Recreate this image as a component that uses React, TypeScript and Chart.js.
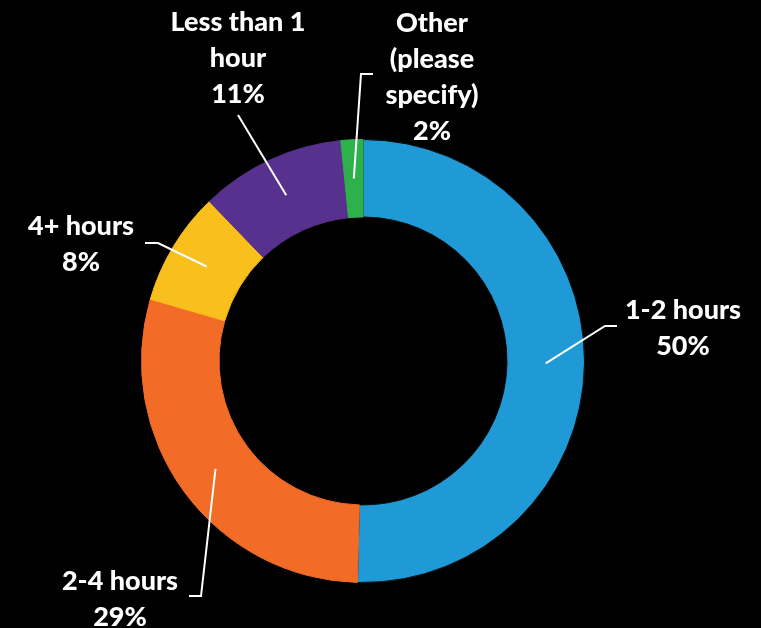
import React, { useEffect, useRef } from "react";
import { Chart, registerables } from "chart.js";

Chart.register(...registerables);

// ---- data ----
const categories = ["1-2 hours", "2-4 hours", "4+ hours", "Less than 1 hour", "Other (please specify)"];
const displayLines = [["1-2 hours"], ["2-4 hours"], ["4+ hours"], ["Less than 1", "hour"], ["Other", "(please", "specify)"]];
const shares = [50.4, 29.1, 8.3, 10.6, 1.6];
const colors = ["#1F9AD6", "#F26B27", "#F9C01D", "#58318E", "#2EB04B"];
const borderColors = ["#0a0a0a", "#F26B27", "#F9C01D", "#58318E", "#2EB04B"];

// label placement (offsets from donut centre, px)
const labelPos = [
  { tx: 320, ty: -42, ex: 242, ey: -35, hx: 254, hy: -35 },
  { tx: -243, ty: 229, ex: -162, ey: 235, hx: -174, hy: 235 },
  { tx: -282, ty: -126, ex: -205, ey: -118, hx: -218, hy: -118 },
  { tx: -125, ty: -330, ex: -125, ey: -246, hx: -125, hy: -246 },
  { tx: 69, ty: -329, ex: -2, ey: -287, hx: 10, hy: -287 },
];

const FONT = "900 27px Lato, 'Open Sans', sans-serif";
const LINE_H = 36;

const bgPlugin = {
  id: "bg",
  beforeDraw(chart: any) {
    const { ctx, width, height } = chart;
    ctx.save();
    ctx.fillStyle = "#000";
    ctx.fillRect(0, 0, width, height);
    ctx.restore();
  },
};

const labelPlugin = {
  id: "leaderLabels",
  afterDatasetsDraw(chart: any) {
    const { ctx } = chart;
    const meta = chart.getDatasetMeta(0);
    ctx.save();
    meta.data.forEach((arc: any, i: number) => {
      const p = arc.getProps(["x", "y", "startAngle", "endAngle", "innerRadius", "outerRadius"], true);
      const mid = (p.startAngle + p.endAngle) / 2;
      const r = (p.innerRadius + p.outerRadius) / 2;
      const sx = p.x + Math.cos(mid) * r;
      const sy = p.y + Math.sin(mid) * r;
      const lp = labelPos[i];
      ctx.strokeStyle = "#fff";
      ctx.lineWidth = 2;
      ctx.beginPath();
      ctx.moveTo(sx, sy);
      ctx.lineTo(p.x + lp.ex, p.y + lp.ey);
      ctx.lineTo(p.x + lp.hx, p.y + lp.hy);
      ctx.stroke();

      ctx.fillStyle = "#fff";
      ctx.font = FONT;
      ctx.textAlign = "center";
      ctx.textBaseline = "alphabetic";
      const lines = [...displayLines[i], Math.round(shares[i]) + "%"];
      lines.forEach((t, k) => {
        ctx.fillText(t, p.x + lp.tx, p.y + lp.ty + k * LINE_H);
      });
    });
    ctx.restore();
  },
};

export default function App() {
  const ref = useRef<HTMLCanvasElement | null>(null);
  useEffect(() => {
    document.body.style.margin = "0";
    document.body.style.background = "#000";
    const chart = new Chart(ref.current as HTMLCanvasElement, {
      type: "doughnut",
      data: {
        labels: categories,
        datasets: [
          {
            data: shares,
            backgroundColor: colors,
            borderColor: borderColors,
            borderWidth: 1,
            hoverOffset: 0,
          },
        ],
      },
      options: {
        responsive: false,
        animation: false,
        cutout: "65%",
        layout: { padding: { left: 141, right: 176, top: 139, bottom: 45 } },
        plugins: { legend: { display: false }, tooltip: { enabled: false } },
      },
      plugins: [bgPlugin, labelPlugin],
    });
    return () => chart.destroy();
  }, []);
  return (
    <div style={{ position: "absolute", left: 0, top: 0, width: 761, height: 628, background: "#000" }}>
      <canvas ref={ref} width={761} height={628} />
    </div>
  );
}
